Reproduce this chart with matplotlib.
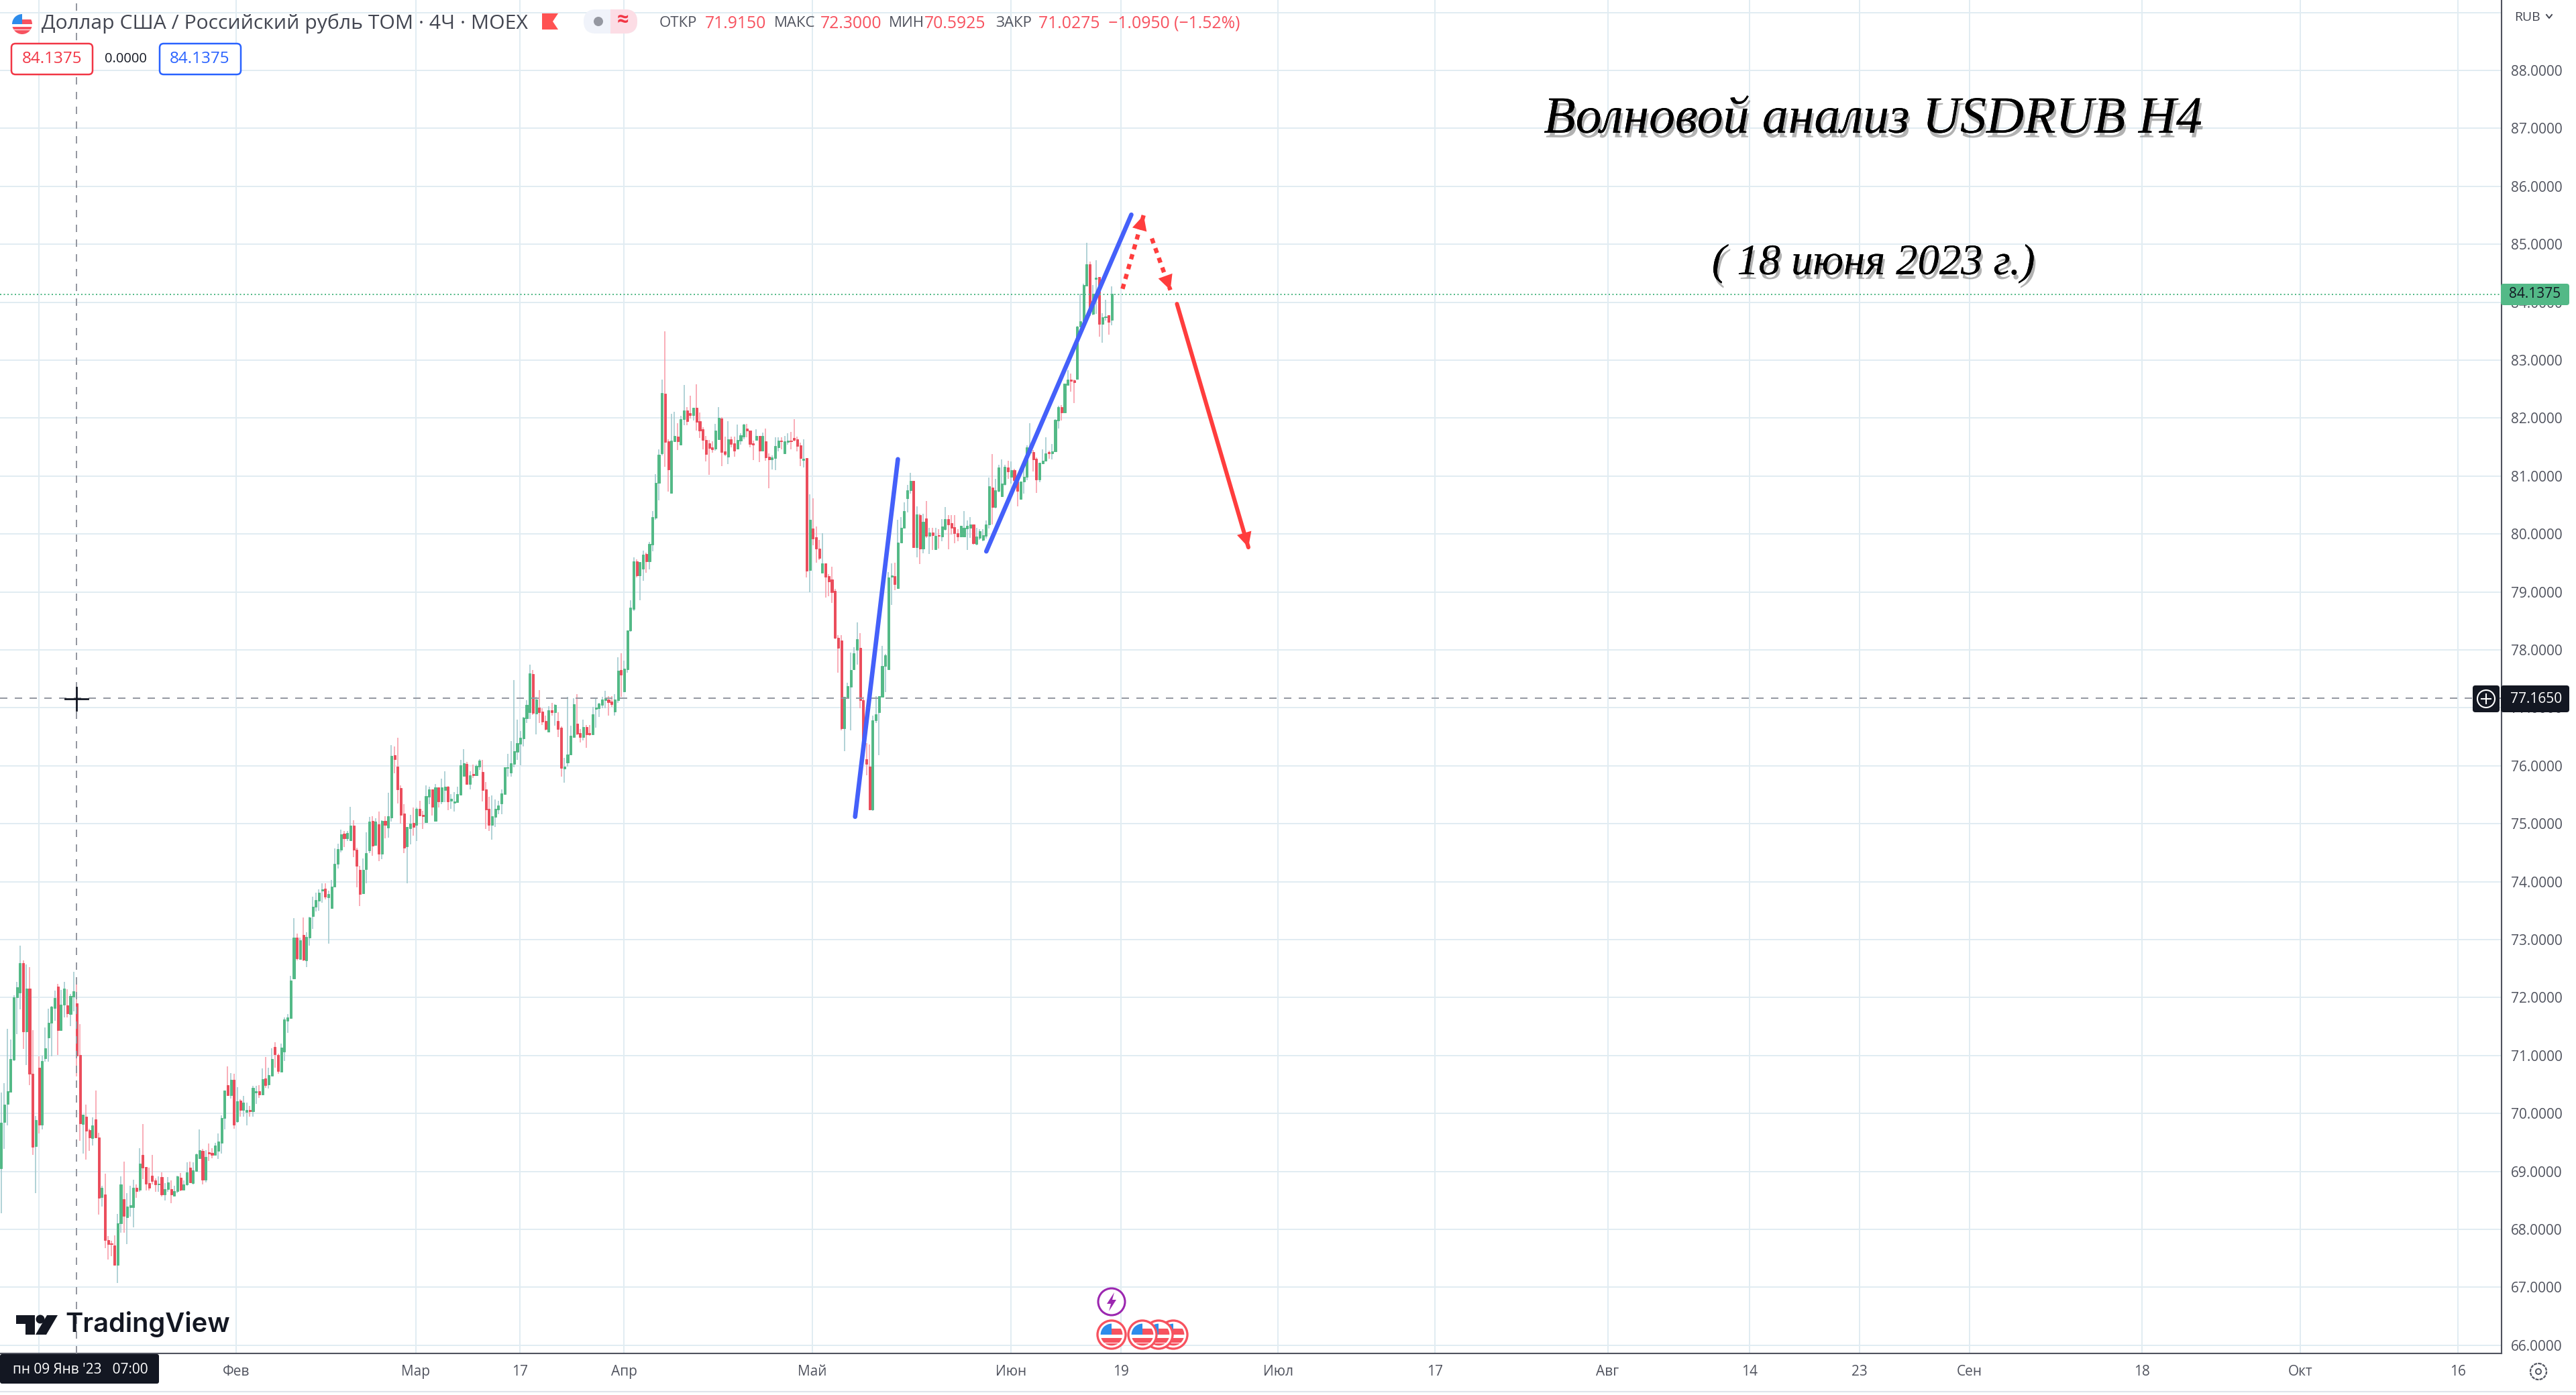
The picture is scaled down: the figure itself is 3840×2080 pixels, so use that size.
from matplotlib import pyplot as plt
from matplotlib import patheffects as pe
from matplotlib.patches import Circle, FancyBboxPatch, Polygon, Rectangle
import numpy as np
import pandas as pd

# open, high, low, close of each 4h bar
jan_bars = [
    (69.05,70.36,68.28,69.84),(69.85,70.52,69.39,70.15),(70.17,71.46,69.79,70.38),(70.37,71.28,70.36,70.94),
    (70.93,72.04,70.90,72.01),(72.00,72.27,71.37,72.18),(72.08,72.90,71.80,72.60),(72.60,72.64,71.11,71.41),
    (71.41,72.57,70.83,72.16),(72.16,72.53,70.49,70.68),(70.68,71.44,69.29,69.42),(69.44,69.96,68.63,69.89),
    (70.79,70.99,69.66,69.80),(69.80,71.00,69.73,70.91),(70.95,71.48,70.89,71.12),(71.31,71.81,70.89,71.57),
    (71.56,71.86,70.99,71.84),(71.82,72.12,71.60,71.99),(72.19,72.24,71.01,71.44),(71.44,72.13,71.44,71.88),
    (71.88,72.27,71.66,72.16),(71.87,72.14,71.66,71.73),(71.72,72.06,71.51,72.03),(72.02,72.44,71.76,72.11),
    (71.90,72.28,70.64,71.00),(71.01,71.54,69.53,69.83),(69.82,69.98,69.31,69.98),(69.94,70.15,69.20,69.70),
    (69.71,69.74,69.35,69.58),(69.57,69.93,69.45,69.79),(69.90,70.40,69.57,69.58),(69.58,69.67,68.26,68.54),
    (68.55,68.75,68.39,68.72),(68.60,68.96,67.68,67.81),(67.82,67.88,67.48,67.75),(67.76,67.80,67.54,67.74),
    (67.72,67.90,67.38,67.39),(67.39,68.27,67.08,68.10),(68.10,68.92,67.94,68.78),(68.52,69.17,67.94,68.23),
    (68.21,68.62,67.75,68.39),(68.38,68.75,68.22,68.42),(68.38,68.86,68.03,68.72),(68.72,68.78,68.54,68.66),
    (68.68,69.40,68.65,69.13),(69.28,69.82,68.87,69.07),(69.08,69.08,68.67,68.79),(68.80,69.06,68.67,68.72),
    (68.93,69.28,68.77,68.83),(68.85,68.88,68.65,68.77),(68.77,68.92,68.65,68.79),(68.90,68.98,68.57,68.60),
    (68.60,68.80,68.50,68.69),(68.69,68.90,68.65,68.81),(68.69,68.85,68.45,68.60),(68.58,68.75,68.57,68.66),
    (68.66,68.93,68.63,68.92),(68.89,68.97,68.66,68.68),(68.68,68.85,68.68,68.77),(68.77,69.16,68.75,68.98),
    (69.06,69.17,68.80,68.81),(68.80,69.16,68.78,69.02),(69.01,69.31,68.99,69.30),(69.23,69.72,69.22,69.37),
    (69.35,69.39,68.77,68.86),(68.86,69.37,68.81,69.25),(69.33,69.48,69.18,69.31),(69.32,69.40,69.23,69.28),
    (69.29,69.49,69.27,69.45),(69.35,69.66,69.22,69.52),(69.49,69.97,69.31,69.92),(69.92,70.40,69.73,70.40),
    (70.49,70.81,70.30,70.31),(70.32,70.70,70.26,70.58),(70.58,70.68,69.74,69.80),
]
feb_bars = [
    (69.86,70.45,69.84,70.21),(70.22,70.24,69.94,70.06),(70.06,70.30,69.94,70.19),(70.02,70.19,69.79,70.06),
    (70.06,70.13,69.94,70.04),(70.04,70.48,69.95,70.44),(70.36,70.48,70.17,70.38),(70.38,70.49,70.27,70.33),
    (70.33,70.78,70.32,70.59),(70.60,70.98,70.44,70.49),(70.50,70.79,70.43,70.66),(70.65,71.12,70.64,70.94),
    (71.15,71.23,70.79,71.02),(71.01,71.03,70.69,70.73),(70.72,71.21,70.71,71.14),(71.07,71.66,70.90,71.62),
    (71.60,71.72,71.39,71.66),(71.65,72.38,71.64,72.29),(72.33,73.37,72.33,73.03),(73.03,73.11,72.64,72.68),
    (72.67,73.03,72.66,72.99),(73.08,73.38,72.63,72.65),(72.64,73.13,72.53,73.05),(73.03,73.39,72.90,73.38),
    (73.40,73.74,73.18,73.57),(73.57,73.81,73.49,73.68),(73.67,73.87,73.50,73.81),(73.85,73.97,73.64,73.87),
    (73.88,73.97,73.70,73.74),(73.73,73.84,72.93,73.79),(73.54,74.03,73.54,73.91),(73.91,74.57,73.91,74.31),
    (74.31,74.65,74.23,74.56),(74.55,74.90,74.51,74.82),(74.83,74.87,74.60,74.75),(74.75,74.87,74.70,74.84),
    (74.71,75.29,74.71,74.97),(74.97,75.06,74.42,74.55),(74.55,74.59,73.90,74.27),(74.20,74.27,73.58,73.79),
    (73.80,74.40,73.79,74.20),(74.22,74.85,73.97,74.49),(74.54,75.12,74.49,75.04),(75.05,75.13,74.45,74.62),
    (74.63,75.09,74.63,75.04),(74.99,75.21,74.35,74.48),(74.48,75.06,74.39,75.05),(75.05,75.13,74.75,74.98),
    (74.93,75.53,74.76,75.13),(75.11,76.36,75.04,76.17),(76.18,76.33,75.87,76.11),(75.99,76.48,75.35,75.59),
    (75.62,75.66,75.00,75.15),(75.18,75.34,74.49,74.59),(74.61,74.94,73.97,74.94),(74.92,75.15,74.64,75.00),
    (75.01,75.28,74.79,74.94),
]
mar_bars = [
    (74.98,75.28,74.70,75.26),(75.26,75.40,75.13,75.14),(75.15,75.22,74.91,75.13),(75.03,75.66,75.02,75.48),
    (75.46,75.64,75.34,75.59),(75.59,75.59,75.14,75.29),(75.05,75.68,75.05,75.63),(75.63,75.63,75.28,75.38),
    (75.38,75.78,75.34,75.63),(75.58,75.90,75.37,75.64),(75.64,75.65,75.23,75.38),(75.40,75.51,75.26,75.43),
    (75.36,75.55,75.21,75.38),(75.37,75.64,75.36,75.51),(75.50,76.10,75.49,76.01),(75.82,76.29,75.82,76.04),
    (76.03,76.07,75.67,75.68),(75.68,75.90,75.59,75.83),(75.86,76.02,75.79,75.83),(75.83,76.02,75.82,76.00),
    (75.99,76.11,75.93,76.09),(75.89,76.10,75.38,75.58),(75.59,75.72,74.91,75.25),(75.26,75.47,74.87,74.98),
    (74.98,75.49,74.72,75.13),(75.12,75.42,74.94,75.26),(75.25,75.40,75.17,75.31),(75.35,75.59,75.16,75.52),
    (75.51,75.98,75.51,75.97),(75.96,76.21,75.81,75.97),(75.88,76.43,75.81,76.04),(76.03,77.48,75.98,76.25),
    (76.24,76.80,76.10,76.39),(76.38,76.60,76.01,76.48),(76.47,76.84,76.33,76.83),(76.82,77.13,76.74,77.05),
    (76.92,77.75,76.81,77.60),(77.58,77.65,76.88,76.91),(76.90,77.19,76.54,77.14),(77.00,77.31,76.74,76.92),
    (76.93,76.99,76.70,76.76),(76.77,76.87,76.61,76.63),(76.59,77.03,76.59,76.96),(76.96,77.09,76.87,76.92),
    (76.92,77.06,76.69,77.05),(76.77,76.92,76.50,76.63),(76.66,76.68,75.81,75.96),(75.95,76.14,75.71,75.99),
    (76.06,77.19,75.99,76.19),(76.19,76.69,76.19,76.52),(76.50,77.17,76.48,77.06),(76.73,77.24,76.53,76.55),
    (76.57,76.63,76.40,76.50),(76.50,76.80,76.44,76.67),(76.67,76.70,76.31,76.54),(76.57,76.70,76.52,76.54),
    (76.54,77.02,76.54,76.89),(76.98,77.18,76.66,77.00),(76.99,77.09,76.84,77.07),(77.05,77.19,76.99,77.14),
    (77.13,77.29,76.99,77.17),(77.14,77.20,76.87,77.10),(77.11,77.20,77.02,77.06),(76.94,77.24,76.87,77.14),
    (77.13,77.87,77.09,77.64),(77.65,77.94,77.19,77.57),
]
apr_bars = [
    (77.28,77.82,77.28,77.68),(77.66,78.34,77.61,78.34),(78.33,78.86,78.31,78.73),(78.71,79.60,78.67,79.53),
    (79.53,79.56,79.25,79.29),(79.29,79.52,78.86,79.52),(79.40,79.71,79.19,79.64),(79.66,79.68,79.33,79.53),
    (79.53,79.86,79.39,79.83),(79.82,80.40,79.70,80.29),(80.28,81.03,80.25,80.88),(80.88,81.46,80.58,81.37),
    (81.39,82.66,81.36,82.43),(82.42,83.50,81.16,81.59),(81.60,81.63,80.73,81.11),(80.71,82.07,80.71,81.61),
    (81.60,82.11,81.60,81.69),(81.68,81.91,81.45,81.60),(81.54,82.04,81.54,81.98),(81.98,82.57,81.88,82.13),
    (82.13,82.19,81.88,81.95),(82.09,82.39,81.99,82.05),(82.05,82.18,81.96,82.18),(82.18,82.58,81.79,81.94),
    (81.95,82.10,81.66,81.79),(81.81,81.84,81.46,81.62),(81.62,81.69,81.25,81.38),(81.57,81.62,81.02,81.48),
    (81.50,81.60,81.40,81.46),(81.47,81.90,81.44,81.79),(81.63,82.19,81.63,82.00),(81.99,82.02,81.17,81.41),
    (81.43,81.68,81.35,81.38),(81.33,81.95,81.21,81.63),(81.63,81.68,81.50,81.55),(81.57,81.68,81.33,81.44),
    (81.47,81.89,81.46,81.62),(81.61,81.74,81.54,81.70),(81.68,81.90,81.63,81.89),(81.82,81.90,81.67,81.79),
    (81.79,81.79,81.50,81.55),(81.57,81.61,81.28,81.54),(81.62,81.81,81.61,81.69),(81.69,81.69,81.24,81.44),
    (81.44,81.75,81.44,81.69),(81.60,81.82,81.26,81.32),(81.33,81.39,80.79,81.29),(81.29,81.36,81.11,81.32),
    (81.31,81.67,81.10,81.52),(81.50,81.67,81.43,81.61),(81.61,81.67,81.46,81.60),(81.39,81.69,81.39,81.60),
    (81.59,81.74,81.54,81.61),(81.61,81.76,81.46,81.60),(81.66,81.98,81.60,81.62),(81.63,81.68,81.43,81.52),
    (81.53,81.58,81.17,81.31),(81.28,81.63,81.15,81.30),(81.31,81.31,79.25,79.37),(79.38,80.69,79.00,80.24),
]
may_bars = [
    (80.10,80.61,79.80,79.92),(79.94,80.13,79.51,79.75),(79.75,79.90,79.55,79.59),(79.33,80.01,79.33,79.49),
    (79.49,79.49,78.90,79.26),(79.27,79.31,78.93,79.18),(79.22,79.43,78.81,78.99),(79.02,79.05,78.19,78.21),
    (78.21,78.25,77.61,78.03),(78.16,78.25,76.61,76.65),(76.65,77.19,76.25,77.19),(77.17,77.43,77.16,77.37),
    (77.36,77.95,76.61,77.65),(77.67,78.05,77.66,77.94),(78.00,78.48,77.75,78.18),(78.03,78.29,76.99,77.13),
    (77.13,77.19,76.33,76.33),(76.11,76.39,75.83,76.03),(75.99,76.37,75.24,75.25),(75.25,76.86,75.22,76.79),
    (76.79,77.20,76.74,76.89),(76.92,77.20,76.18,77.20),(77.19,78.07,77.19,77.72),(77.72,77.93,77.27,77.91),
    (77.66,79.34,77.66,79.25),(79.26,79.49,78.78,79.28),(79.27,79.51,79.03,79.13),(79.06,80.24,79.06,79.85),
    (79.85,80.29,79.85,80.11),(80.11,80.55,80.11,80.39),(80.61,80.85,80.37,80.76),(80.76,81.05,80.70,80.92),
    (80.92,80.92,79.77,79.77),(79.77,80.48,79.60,80.34),(80.33,80.35,79.48,79.75),(79.75,80.35,79.67,80.21),
    (80.27,80.57,79.93,79.97),(79.97,80.11,79.65,80.02),(80.02,80.11,79.72,79.98),(79.74,80.11,79.74,79.97),
    (79.98,80.08,79.75,79.97),(79.96,80.26,79.87,80.13),(80.08,80.46,80.06,80.26),(80.26,80.33,79.74,80.17),
    (80.19,80.33,79.99,80.11),(80.12,80.33,79.84,80.01),(80.01,80.08,79.87,79.96),(79.96,80.14,79.95,80.14),
    (79.96,80.39,79.96,80.11),(80.10,80.23,79.72,80.14),(80.11,80.29,79.93,80.16),(80.16,80.16,79.82,79.84),
    (79.83,80.11,79.80,79.96),(79.93,80.08,79.90,80.05),(79.90,80.08,79.87,79.98),(79.97,80.23,79.92,80.17),
    (80.16,80.97,80.10,80.82),(80.80,81.38,80.17,80.47),(80.46,80.95,80.44,80.75),(80.74,81.19,80.72,81.15),
    (80.65,81.29,80.65,80.87),(80.86,81.19,80.84,81.16),(81.15,81.26,80.95,81.08),
]
jun_bars = [
    (80.99,81.25,80.87,81.10),(81.10,81.12,80.89,80.93),(80.91,80.95,80.48,80.74),(80.60,80.90,80.60,80.90),
    (80.90,81.19,80.70,80.99),(80.99,81.53,80.93,81.49),(81.40,81.91,81.36,81.44),(81.41,81.45,81.08,81.29),
    (81.30,81.32,80.71,80.94),(80.94,81.23,80.89,81.23),(81.22,81.46,81.22,81.26),(81.26,81.67,81.26,81.39),
    (81.41,81.44,81.30,81.39),(81.39,81.55,81.29,81.43),(81.43,81.98,81.43,81.97),(81.96,82.21,81.82,82.19),
    (82.19,82.23,81.96,82.10),(82.10,82.60,82.10,82.59),(82.57,82.83,82.57,82.66),(82.66,82.77,82.46,82.64),
    (82.65,82.66,82.26,82.62),(82.68,83.59,82.68,83.58),(83.58,84.15,83.57,83.67),(83.68,84.32,83.67,84.30),
    (84.29,85.02,84.29,84.66),(84.66,84.70,83.76,83.90),(83.80,84.30,83.77,84.15),(84.40,84.73,83.80,84.42),
    (84.43,84.43,83.41,83.63),(83.63,83.81,83.30,83.74),(83.74,84.04,83.68,83.75),(83.77,83.77,83.44,83.66),
    (83.69,84.27,83.60,84.14),
]

# time axis, in bars
x_ticks = [12, 74.7, 131.8, 164.9, 197.9, 257.8, 320.9, 355.9, 405.8, 455.7, 510.6, 555.6, 590.6, 625.6, 680.4, 730.7, 780.9]
x_labels = ['', 'Фев', 'Мар', '17', 'Апр', 'Май', 'Июн', '19', 'Июл', '17', 'Авг', '14', '23', 'Сен', '18', 'Окт', '16']
y_ticks = list(range(66, 90))
last_price = 84.1375
cross_price = 77.165
cross_bar = 24

# hand drawn wave lines: (bar, price) start and end
blue_a = [(271.4, 75.12), (285.0, 81.29)]
blue_b = [(313.1, 79.70), (359.2, 85.51)]
red_up = [(356.4, 84.23), (363.1, 85.50)]
red_mid = [(365.7, 85.10), (371.6, 84.21)]
red_down = [(373.7, 83.97), (396.4, 79.77)]

GREEN = '#53B987'
RED = '#EB4D5C'
GRID = '#E1ECF2'
AXIS = '#50535E'
BLUE = '#4460FA'
ARROW = '#FF3D3D'
HEAD = '#F7525F'
DARK = '#131722'


def head(ax, line):
    ax.annotate('', xy=line[1], xytext=line[0], zorder=6,
                arrowprops=dict(arrowstyle='-|>,head_length=1,head_width=0.5', mutation_scale=16,
                                lw=0, fc=ARROW, shrinkA=0, shrinkB=0))


def flag(ov, cx, cy, r, edge=True):
    # little round US flag, pixel coordinates of the overlay
    rim = Circle((cx, cy), r, fc='white', ec='#F7525F' if edge else 'none', lw=2.4, zorder=8)
    ov.add_patch(rim)
    inner = Circle((cx, cy), r * (0.78 if edge else 1), transform=ov.transData)
    for x, y, w, h, c in ((-1, -1, 1, 1, '#2D8CEB'), (0, -.45, 1, .45, '#F7525F'),
                          (-1, .25, 2, .3, '#F7525F'), (-1, .62, 2, .5, '#F7525F')):
        p = Rectangle((cx + x * r, cy + y * r), w * r, h * r, fc=c, ec='none', zorder=8)
        ov.add_patch(p)
        p.set_clip_path(inner)


if __name__ == '__main__':
    plt.rcParams['font.family'] = ['Open Sans', 'DejaVu Sans']
    df = pd.DataFrame(jan_bars + feb_bars + mar_bars + apr_bars + may_bars + jun_bars,
                      columns=['open', 'high', 'low', 'close'])
    bars = np.arange(len(df))
    up = df['close'] >= df['open']

    fig = plt.figure(figsize=(38.4, 20.8), dpi=100)
    ax = fig.add_axes([0, 62 / 2080, 3729 / 3840, 2018 / 2080])
    ax.set_xlim(-0.384, 794.7)
    ax.set_ylim(65.859, 89.215)

    ax.set_axisbelow(True)
    ax.grid(color=GRID, lw=1.44)
    ax.set_xticks(x_ticks, x_labels)
    ax.set_yticks(y_ticks, [f'{v:.4f}' if v < 89 else '' for v in y_ticks])
    ax.yaxis.tick_right()
    ax.tick_params(axis='both', length=0, labelsize=15, labelcolor=AXIS)
    ax.tick_params(axis='y', pad=10)
    ax.tick_params(axis='x', pad=12.5)
    for side in ('top', 'left'):
        ax.spines[side].set_visible(False)
    for side in ('right', 'bottom'):
        ax.spines[side].set_color(AXIS)
        ax.spines[side].set_linewidth(1.5)

    ax.vlines(bars[up], df['low'][up], df['high'][up], color='#A3CBCF', lw=1.2, zorder=2)
    ax.vlines(bars[~up], df['low'][~up], df['high'][~up], color='#F8A0AC', lw=1.2, zorder=2)
    for mask, c in ((up, GREEN), (~up, RED)):
        ax.bar(bars[mask], (df['close'] - df['open'])[mask], bottom=df['open'][mask], width=0.66,
               color=c, edgecolor=c, lw=0.7, zorder=3)

    ax.axhline(last_price, color=GREEN, lw=1.44, ls=(0, (1, 1.75)), zorder=4)
    ax.axhline(cross_price, color='#9598A1', lw=1.44, ls=(0, (5.5, 5.5)), zorder=4)
    ax.axvline(cross_bar, color='#9598A1', lw=1.44, ls=(0, (5.5, 5.5)), zorder=4)

    for line in (blue_a, blue_b):
        ax.plot(*zip(*line), color=BLUE, lw=4.8, solid_capstyle='round', zorder=5)
    ax.plot(*zip(*red_down), color=ARROW, lw=4.4, solid_capstyle='round', zorder=5)
    for line in (red_up, red_mid):
        ax.plot(*zip(*line), color=ARROW, lw=4.6, ls=(0, (1.2, 1.2)), zorder=5)
    for line in (red_up, red_mid, red_down):
        head(ax, line)

    # overlay in screen pixels for the chart furniture
    ov = fig.add_axes([0, 0, 1, 1], zorder=10)
    ov.set_xlim(0, 3840)
    ov.set_ylim(2080, 0)
    ov.axis('off')

    ov.plot([0, 3840], [2075, 2075], color='#E0E3EB', lw=1.5)

    # legend row
    flag(ov, 33, 36, 15, edge=False)
    ov.text(62, 35, 'Доллар США / Российский рубль ТОМ · 4Ч · MOEX', fontsize=21.7, color='#434651', va='center')
    ov.add_patch(Polygon([(808, 20), (832, 20), (824, 32), (832, 44), (808, 44)], fc='#FF5252', ec='none'))
    pill = FancyBboxPatch((870, 14), 80, 36, boxstyle='round,pad=0,rounding_size=18', fc='#F0F3FA', ec='none')
    ov.add_patch(pill)
    half = Rectangle((910, 14), 40, 36, fc='#FCDDE5', ec='none')
    ov.add_patch(half)
    half.set_clip_path(pill)
    ov.add_patch(Circle((892, 32), 7, fc='#9598A1', ec='none'))
    ov.text(928, 31, '≈', fontsize=22, color='#F23645', ha='center', va='center', fontweight='bold')
    for x, s in ((983, 'ОТКР'), (1154, 'МАКС'), (1325, 'МИН'), (1484, 'ЗАКР')):
        ov.text(x, 35, s, fontsize=16, color=AXIS, va='center')
    for x, s in ((1051, '71.9150'), (1223, '72.3000'), (1378, '70.5925'), (1548, '71.0275  −1.0950 (−1.52%)')):
        ov.text(x, 35, s, fontsize=17.8, color=HEAD, va='center')

    for x0, c in ((17, '#F23645'), (238, '#2962FF')):
        ov.add_patch(FancyBboxPatch((x0, 65), 121, 46, boxstyle='round,pad=0,rounding_size=6',
                                    fc='white', ec=c, lw=1.8))
        ov.text(x0 + 60, 88, '84.1375', fontsize=17.5, color=c, ha='center', va='center')
    ov.text(187, 88, '0.0000', fontsize=14.5, color=DARK, ha='center', va='center')

    # price scale
    ov.text(3748, 26, 'RUB', fontsize=14, color='#434651', va='center')
    ov.plot([3796, 3800, 3804], [22, 27, 22], color='#434651', lw=1.4)
    ov.add_patch(FancyBboxPatch((3728, 423), 102, 32, boxstyle='round,pad=0,rounding_size=4', fc=GREEN, ec='none'))
    ov.text(3779, 439, '84.1375', fontsize=15, color=DARK, ha='center', va='center')
    ov.add_patch(FancyBboxPatch((3686, 1022), 40, 40, boxstyle='round,pad=0,rounding_size=4', fc=DARK, ec='none'))
    ov.add_patch(FancyBboxPatch((3728, 1022), 102, 40, boxstyle='round,pad=0,rounding_size=4', fc=DARK, ec='none'))
    ov.text(3781, 1042, '77.1650', fontsize=15, color='white', ha='center', va='center')
    ov.add_patch(Circle((3706, 1042), 13, fc='none', ec='white', lw=1.5))
    ov.plot([3699, 3713], [1042, 1042], color='white', lw=1.5)
    ov.plot([3706, 3706], [1035, 1049], color='white', lw=1.5)

    # crosshair
    ov.plot([97, 131], [1042, 1042], color=DARK, lw=2)
    ov.plot([114, 114], [1025, 1059], color=DARK, lw=2)
    ov.add_patch(FancyBboxPatch((0, 2019), 237, 44, boxstyle='round,pad=0,rounding_size=3', fc=DARK, ec='none'))
    ov.text(120, 2043, "пн 09 Янв '23   07:00", fontsize=15, color='white', ha='center', va='center')

    # gear, bottom right
    ov.add_patch(Circle((3784, 2045), 12, fc='none', ec=AXIS, lw=1.6, ls=(0, (2.2, 0.6))))
    ov.add_patch(Circle((3784, 2045), 4, fc='none', ec=AXIS, lw=1.4))

    # event markers
    ov.add_patch(Circle((1657, 1941), 20, fc='white', ec='#9C27B0', lw=2.2, zorder=8))
    ov.add_patch(Polygon([(1661, 1927), (1650, 1944), (1656, 1944), (1653, 1955), (1664, 1938), (1658, 1938)],
                         fc='#9C27B0', ec='none', zorder=9))
    for x in (1749, 1727, 1703, 1657):
        flag(ov, x, 1990, 21)

    # logo
    ov.add_patch(Polygon([(24, 1961), (52, 1961), (52, 1990), (38, 1990), (38, 1974), (24, 1974)], fc=DARK, ec='none'))
    ov.add_patch(Circle((60, 1967), 6.5, fc=DARK, ec='none'))
    ov.add_patch(Polygon([(70, 1961), (86, 1961), (69, 1990), (53, 1990)], fc=DARK, ec='none'))
    ov.text(97, 1975, 'TradingView', fontsize=28.7, color=DARK, family=['Inter', 'DejaVu Sans'], fontweight='semibold',
            va='center')

    # author's caption
    shadow = [pe.withSimplePatchShadow(offset=(2, -5), shadow_rgbFace='#555555', alpha=0.45), pe.Normal()]
    ov.text(2792, 179, 'Волновой анализ USDRUB H4', fontsize=56, color='black', ha='center', va='center',
            family=['Liberation Serif', 'DejaVu Serif'], fontstyle='italic', path_effects=shadow)
    ov.text(2793, 393, '( 18 июня 2023 г.)', fontsize=46.5, color='black', ha='center', va='center',
            family=['Liberation Serif', 'DejaVu Serif'], fontstyle='italic', path_effects=shadow)

    fig.savefig('out.png', dpi=100, facecolor='white')
